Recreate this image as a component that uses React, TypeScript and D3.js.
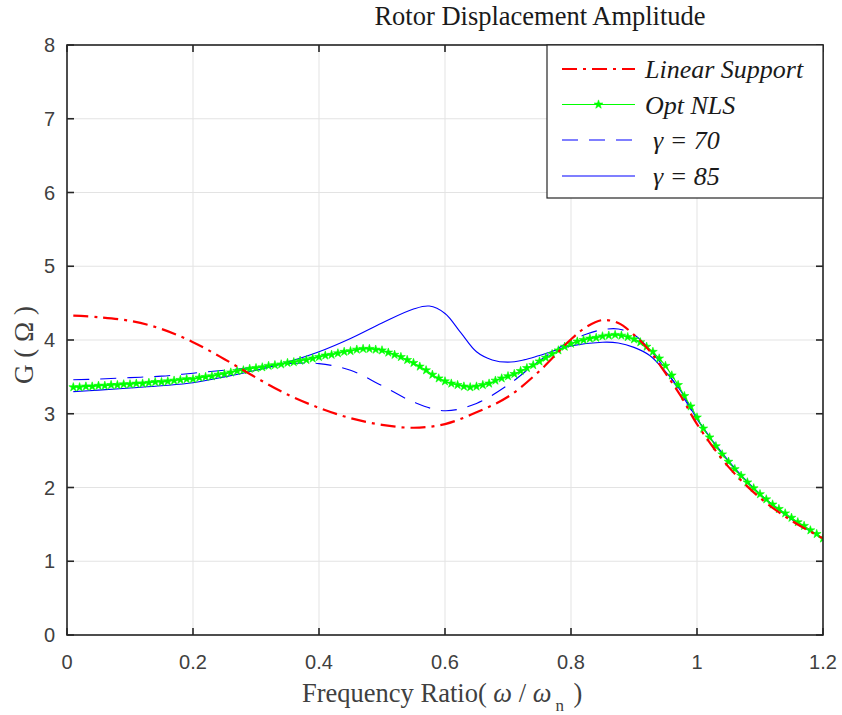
import React from 'react';
import * as d3 from 'd3';

const W = 842;
const H = 715;
const PL = 67, PR = 823, PT = 45, PB = 635;

const xTicks = [0, 0.2, 0.4, 0.6, 0.8, 1, 1.2];
const xTickLabels = ['0', '0.2', '0.4', '0.6', '0.8', '1', '1.2'];
const yTicks = [0, 1, 2, 3, 4, 5, 6, 7, 8];
const yTickLabels = ['0', '1', '2', '3', '4', '5', '6', '7', '8'];

// Linear Support (red dash-dot)
const linearFreq = [0.01, 0.05, 0.1, 0.15, 0.2, 0.25, 0.3, 0.35, 0.4, 0.45, 0.5, 0.55, 0.6, 0.65, 0.7, 0.75, 0.8, 0.825, 0.85, 0.875, 0.9, 0.925, 0.95, 0.975, 1.0, 1.05, 1.1, 1.15, 1.2];
const linearAmp = [4.33, 4.31, 4.26, 4.15, 3.97, 3.74, 3.49, 3.26, 3.08, 2.94, 2.85, 2.81, 2.86, 3.02, 3.23, 3.58, 4.01, 4.18, 4.27, 4.23, 4.07, 3.85, 3.55, 3.23, 2.86, 2.28, 1.86, 1.55, 1.31];

// gamma = 70 (blue dashed)
const g70Freq = [0.01, 0.05, 0.1, 0.15, 0.2, 0.25, 0.3, 0.35, 0.4, 0.45, 0.5, 0.55, 0.6, 0.65, 0.7, 0.75, 0.8, 0.825, 0.85, 0.875, 0.9, 0.925, 0.95, 0.975, 1.0, 1.05, 1.1, 1.15, 1.2];
const g70Amp = [3.46, 3.47, 3.49, 3.51, 3.55, 3.59, 3.63, 3.68, 3.68, 3.59, 3.38, 3.16, 3.04, 3.14, 3.39, 3.72, 3.99, 4.08, 4.14, 4.15, 4.07, 3.87, 3.60, 3.27, 2.93, 2.35, 1.91, 1.58, 1.31];

// gamma = 85 (blue solid)
const g85Freq = [0.01, 0.05, 0.1, 0.15, 0.2, 0.25, 0.3, 0.35, 0.4, 0.45, 0.5, 0.55, 0.575, 0.6, 0.625, 0.65, 0.675, 0.7, 0.725, 0.75, 0.8, 0.85, 0.875, 0.9, 0.925, 0.95, 0.975, 1.0, 1.05, 1.1, 1.15, 1.2];
const g85Amp = [3.30, 3.32, 3.35, 3.38, 3.42, 3.50, 3.59, 3.70, 3.84, 4.02, 4.23, 4.42, 4.46, 4.36, 4.10, 3.84, 3.73, 3.70, 3.73, 3.79, 3.92, 3.97, 3.96, 3.90, 3.79, 3.57, 3.30, 2.93, 2.36, 1.91, 1.57, 1.31];

// Opt NLS (green with stars), sampled every 0.01 from 0.01 to 1.2
const nlsFreq = d3.range(1, 121).map((i) => i / 100);
const nlsAmp = [
  3.36, 3.36, 3.37, 3.37, 3.38, 3.38, 3.39, 3.39, 3.40, 3.40,
  3.41, 3.41, 3.42, 3.43, 3.43, 3.44, 3.45, 3.46, 3.47, 3.47,
  3.49, 3.50, 3.51, 3.53, 3.54, 3.56, 3.58, 3.59, 3.61, 3.62,
  3.63, 3.65, 3.66, 3.67, 3.69, 3.70, 3.72, 3.73, 3.75, 3.77,
  3.79, 3.80, 3.82, 3.84, 3.85, 3.87, 3.88, 3.88, 3.87, 3.86,
  3.83, 3.80, 3.77, 3.73, 3.69, 3.64, 3.59, 3.53, 3.48, 3.44,
  3.41, 3.39, 3.37, 3.36, 3.37, 3.39, 3.41, 3.45, 3.48, 3.51,
  3.54, 3.58, 3.62, 3.66, 3.71, 3.76, 3.81, 3.86, 3.91, 3.95,
  3.98, 4.00, 4.02, 4.03, 4.05, 4.06, 4.07, 4.06, 4.04, 4.01,
  3.97, 3.91, 3.84, 3.75, 3.65, 3.52, 3.39, 3.24, 3.10, 2.95,
  2.80, 2.68, 2.56, 2.45, 2.35, 2.25, 2.16, 2.07, 1.99, 1.91,
  1.84, 1.77, 1.71, 1.65, 1.59, 1.53, 1.48, 1.42, 1.37, 1.31,
];

const legendLabels = ['Linear Support', 'Opt NLS', '\u03b3 = 70', '\u03b3 = 85'];

const SERIF = '"Liberation Serif", "Times New Roman", serif';
const SANS = '"Liberation Sans", Arial, sans-serif';

export default function App() {
  const x = d3.scaleLinear().domain([0, 1.2]).range([PL, PR]);
  const y = d3.scaleLinear().domain([0, 8]).range([PB, PT]);

  const mk = (fx: number[], fy: number[], curve: d3.CurveFactory) =>
    d3
      .line<number>()
      .x((_, i) => x(fx[i]))
      .y((d) => y(d))
      .curve(curve)(fy) || '';

  const redPath = mk(linearFreq, linearAmp, d3.curveCatmullRom);
  const g70Path = mk(g70Freq, g70Amp, d3.curveCatmullRom);
  const g85Path = mk(g85Freq, g85Amp, d3.curveCatmullRom);
  const nlsPath = mk(nlsFreq, nlsAmp, d3.curveMonotoneX);
  const star = d3.symbol().type(d3.symbolStar).size(24)() || '';

  const axisColor = '#262626';
  const gridColor = '#e3e3e3';
  const tickLen = 7;

  const legRows = [69, 104.5, 140, 176];
  const legX1 = 562, legX2 = 635;

  return (
    <div style={{ position: 'absolute', left: 0, top: 0 }}>
      <svg width={W} height={H} style={{ display: 'block', background: '#fff' }}>
        <rect x={0} y={0} width={W} height={H} fill="#fff" />
        {/* grid */}
        {xTicks.map((t) => (
          <line key={'gx' + t} x1={x(t)} x2={x(t)} y1={PT} y2={PB} stroke={gridColor} strokeWidth={1} />
        ))}
        {yTicks.map((t) => (
          <line key={'gy' + t} x1={PL} x2={PR} y1={y(t)} y2={y(t)} stroke={gridColor} strokeWidth={1} />
        ))}

        {/* series */}
        <g clipPath="url(#clipPlot)">
          <path d={g85Path} fill="none" stroke="#0000ff" strokeWidth={1.1} />
          <path d={g70Path} fill="none" stroke="#0000ff" strokeWidth={1.1} strokeDasharray="16 11" />
          <path d={nlsPath} fill="none" stroke="#00ff00" strokeWidth={1.1} />
          {nlsAmp.map((v, i) => (
            <path key={'s' + i} d={star} transform={`translate(${x(nlsFreq[i])},${y(v)})`} fill="#00ff00" stroke="#00ff00" strokeWidth={0.6} />
          ))}
          <path d={redPath} fill="none" stroke="#ff0000" strokeWidth={2.2} strokeDasharray="15 6 3 6" />
        </g>
        <defs>
          <clipPath id="clipPlot">
            <rect x={PL} y={PT - 5} width={PR - PL} height={PB - PT + 10} />
          </clipPath>
        </defs>

        {/* axes box */}
        <rect x={PL} y={PT} width={PR - PL} height={PB - PT} fill="none" stroke={axisColor} strokeWidth={1.6} />
        {xTicks.map((t) => (
          <g key={'tx' + t}>
            <line x1={x(t)} x2={x(t)} y1={PB} y2={PB - tickLen} stroke={axisColor} strokeWidth={1.6} />
            <line x1={x(t)} x2={x(t)} y1={PT} y2={PT + tickLen} stroke={axisColor} strokeWidth={1.6} />
          </g>
        ))}
        {yTicks.map((t) => (
          <g key={'ty' + t}>
            <line x1={PL} x2={PL + tickLen} y1={y(t)} y2={y(t)} stroke={axisColor} strokeWidth={1.6} />
            <line x1={PR} x2={PR - tickLen} y1={y(t)} y2={y(t)} stroke={axisColor} strokeWidth={1.6} />
          </g>
        ))}

        {/* tick labels */}
        {xTicks.map((t, i) => (
          <text key={'lx' + t} x={x(t)} y={669} textAnchor="middle" fontFamily={SANS} fontSize={20} fill="#404040">
            {xTickLabels[i]}
          </text>
        ))}
        {yTicks.map((t, i) => (
          <text key={'ly' + t} x={55} y={y(t) + 7} textAnchor="end" fontFamily={SANS} fontSize={20} fill="#404040">
            {yTickLabels[i]}
          </text>
        ))}

        {/* title */}
        <text x={540} y={25} textAnchor="middle" fontFamily={SERIF} fontSize={26.5} fill="#1a1a1a">
          Rotor Displacement Amplitude
        </text>

        {/* x label */}
        <text x={302} y={702} fontFamily={SERIF} fontSize={26.5} fill="#404040">
          <tspan>Frequency Ratio( </tspan>
          <tspan fontStyle="italic">{'\u03c9'}</tspan>
          <tspan> / </tspan>
          <tspan fontStyle="italic">{'\u03c9'}</tspan>
          <tspan fontSize={17} dy={9} dx={4}>n</tspan>
          <tspan dy={-9} dx={3}> )</tspan>
        </text>

        {/* y label */}
        <text transform={`translate(33,345) rotate(-90)`} textAnchor="middle" fontFamily={SERIF} fontSize={27} fill="#404040">
          G ( {'\u03a9'} )
        </text>

        {/* legend */}
        <rect x={547} y={PT} width={PR - 547} height={153} fill="#fff" stroke={axisColor} strokeWidth={1.2} />
        <line x1={legX1} x2={legX2} y1={legRows[0]} y2={legRows[0]} stroke="#ff0000" strokeWidth={2.2} strokeDasharray="15 6 3 6" />
        <line x1={legX1} x2={legX2} y1={legRows[1]} y2={legRows[1]} stroke="#00ff00" strokeWidth={1.1} />
        <path d={star} transform={`translate(${(legX1 + legX2) / 2},${legRows[1]})`} fill="#00ff00" stroke="#00ff00" strokeWidth={0.6} />
        <line x1={legX1} x2={legX2} y1={legRows[2]} y2={legRows[2]} stroke="#0000ff" strokeWidth={1.1} strokeDasharray="16 11" />
        <line x1={legX1} x2={legX2} y1={legRows[3]} y2={legRows[3]} stroke="#0000ff" strokeWidth={1.1} />
        {legendLabels.map((lab, i) => (
          <text key={'leg' + i} x={i < 2 ? 645 : 653} y={legRows[i] + 9} fontFamily={SERIF} fontStyle="italic" fontSize={26} fill="#1a1a1a">
            {lab}
          </text>
        ))}
      </svg>
    </div>
  );
}
